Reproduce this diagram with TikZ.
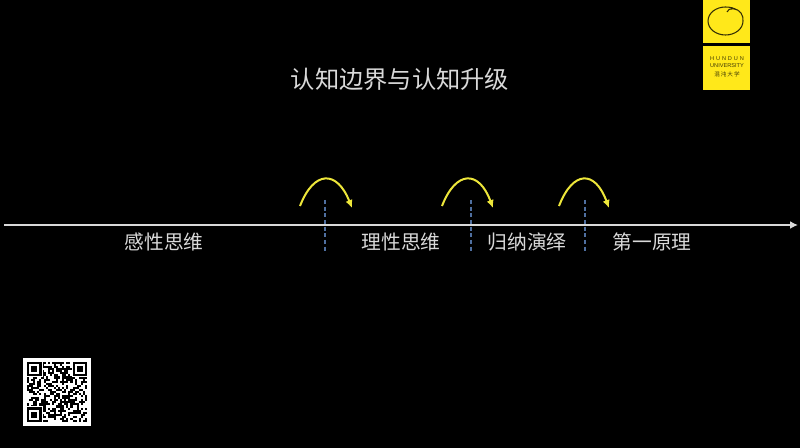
\documentclass[tikz,border=0pt]{standalone}
\usepackage{fontspec}
\setmainfont{Noto Sans CJK SC}
\newfontfamily\logofont{Liberation Sans}
\usetikzlibrary{positioning,arrows.meta}

\definecolor{logoyellow}{HTML}{FFE81A}
\definecolor{hopyellow}{HTML}{EDE63A}
\definecolor{axisgray}{HTML}{D9D9D9}
\definecolor{limitblue}{HTML}{4F6F9F}

\begin{document}
\begin{tikzpicture}[x=0.75pt,y=-0.75pt,>=Latex]
  \tikzstyle{stage}=[text=white!85!black,font=\fontsize{14.8}{16}\selectfont,inner sep=0pt]
  \tikzstyle{hop}=[draw=hopyellow,line width=1.5pt,-{Latex[length=6pt,width=5.5pt]}]
  \tikzstyle{limit}=[draw=limitblue,line width=0.8pt,densely dashed]
  \tikzstyle{logotext}=[text=black!75!logoyellow,inner sep=0pt,font=\logofont\fontsize{4.2}{5}\selectfont]
  \fill[black] (0,0) rectangle (800,448);
  \useasboundingbox (0,0) rectangle (800,448);
  % title and axis
  \node[text=white!85!black,font=\fontsize{18.2}{20}\selectfont,inner sep=0pt] (title) at (400,79) {认知边界与认知升级};
  \coordinate (axisstart) at (4,225);
  \coordinate (axisend) at (798,225);
  \draw[-{Latex[length=6pt,width=6pt]},axisgray,line width=1.9pt] (axisstart) -- (axisend);
  % stages
  \node[stage] (perceptual) at (164,242) {感性思维};
  \node[stage] (rational) at (401,242) {理性思维};
  \node[stage] (induction) at (527,242) {归纳演绎};
  \node[stage] (principle) at (652,242) {第一原理};
  % boundaries and hops
  \foreach \name/\xa/\xb/\xc/\xd in {one/325/300/326/352,two/471/442/468/493,three/585/559/584/609}{
    \coordinate (limit\name top) at (\xa,200);
    \coordinate (limit\name end) at (\xa,251);
    \draw[limit] (limit\name top) -- (limit\name end);
    \coordinate (hop\name start) at (\xb,206);
    \coordinate (hop\name end) at (\xd,208);
    \draw[hop] (hop\name start) .. controls (\xb+14,170) and (\xc+11,170) .. (hop\name end);
  }
  % logo
  \fill[logoyellow] (703,0) rectangle (750,43);
  \fill[logoyellow] (703,46) rectangle (750,90);
  \draw[black!80!logoyellow,line width=0.8pt] (727,12) .. controls (728,7) and (738,8) .. (741,13)
    .. controls (743,16) and (743,18) .. (743,21)
    .. controls (743,29) and (735,35) .. (725.5,35) .. controls (716,35) and (708,29) .. (708,21)
    .. controls (708,13) and (716,7) .. (725.5,7) .. controls (730,7) and (734,8) .. (737,10);
  \node[logotext] (logohundun) at (727,59) {H\,\,U\,\,N\,\,D\,\,U\,\,N};
  \node[logotext,below=1.6pt of logohundun] (logouniv) {UNIVERSITY};
  \node[logotext,below=2.8pt of logouniv,font=\fontsize{4.2}{5}\selectfont] (logocn) {混\,沌\,大\,学};
  % qr code
  \fill[white] (23,358) rectangle (91,426);
  \pgfmathsetseed{2718}
  \foreach \i in {0,...,28}{
    \foreach \j in {0,...,28}{
      \pgfmathrandominteger{\bit}{0}{1}
      \ifnum\bit=1
        \fill[black] (27+\i*2.07,362+\j*2.07) rectangle +(2.07,2.07);
      \fi
    }
  }
  \foreach \fx/\fy in {27/362,72.5/362,27/407.5}{
    \fill[white] (\fx-1,\fy-1) rectangle +(16.5,16.5);
    \fill[black] (\fx,\fy) rectangle +(14.5,14.5);
    \fill[white] (\fx+2.07,\fy+2.07) rectangle +(10.36,10.36);
    \fill[black] (\fx+4.14,\fy+4.14) rectangle +(6.2,6.2);
  }
\end{tikzpicture}
\end{document}
